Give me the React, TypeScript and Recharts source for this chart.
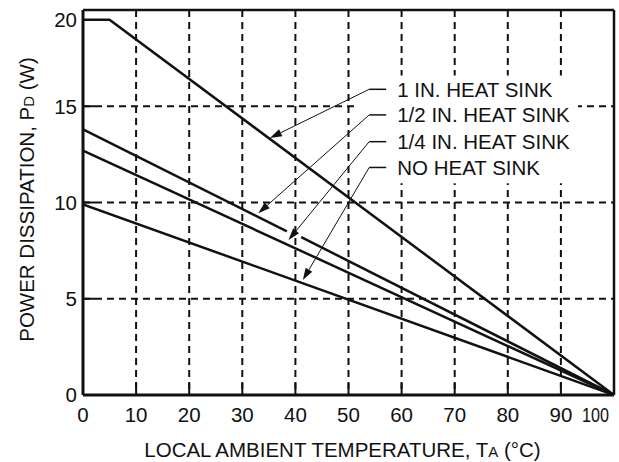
import React from "react";
import {
  LineChart,
  Line,
  XAxis,
  YAxis,
  CartesianGrid,
  ReferenceLine,
  ReferenceArea,
} from "recharts";

// Ambient temperature (°C) and power dissipation (W)
const oneInchTemp = [0, 5, 100];
const oneInchPower = [19.5, 19.5, 0];
// the 1/2 in. curve is broken where the 1/4 in. leader crosses it
const halfInchTempA = [0, 38.4];
const halfInchPowerA = [13.8, 8.5];
const halfInchTempB = [41.1, 100];
const halfInchPowerB = [8.2, 0];
const quarterInchTemp = [0, 100];
const quarterInchPower = [12.7, 0];
const noSinkTemp = [0, 100];
const noSinkPower = [9.9, 0];

const xTicks = [0, 10, 20, 30, 40, 50, 60, 70, 80, 90, 100];
const yTicks = [0, 5, 10, 15, 20];
const gridTemps = [10, 20, 30, 40, 50, 60, 70, 80, 90];
const gridPowers = [5, 10, 15];

const curveLabels = [
  "1 IN. HEAT SINK",
  "1/2 IN. HEAT SINK",
  "1/4 IN. HEAT SINK",
  "NO HEAT SINK",
];

const FONT = "'Liberation Sans', Arial, Helvetica, sans-serif";
const INK = "#111";
const FS = 20.5;

const toRows = (temps: number[], powers: number[]) =>
  temps.map((t, i) => ({ t, p: powers[i] }));

// leader lines: arrow tip on the curve, elbow next to the text
const callouts = [
  { text: curveLabels[0], tip: { x: 35.2, y: 13.35 }, elbow: { x: 53.9, y: 15.88 } },
  { text: curveLabels[1], tip: { x: 33.0, y: 9.44 }, elbow: { x: 53.9, y: 14.55 } },
  { text: curveLabels[2], tip: { x: 38.7, y: 8.05 }, elbow: { x: 53.9, y: 13.16 } },
  { text: curveLabels[3], tip: { x: 41.4, y: 5.97 }, elbow: { x: 53.9, y: 11.82 } },
];

const calloutShape = (text: string) => (p: any) => {
  const { x1, y1, x2, y2 } = p;
  const dx = x2 - x1;
  const dy = y2 - y1;
  const len = Math.hypot(dx, dy) || 1;
  const ux = dx / len;
  const uy = dy / len;
  const head = 12;
  const half = 3.8;
  const bx = x1 + ux * head;
  const by = y1 + uy * head;
  const pts = `${x1},${y1} ${bx - uy * half},${by + ux * half} ${bx + uy * half},${by - ux * half}`;
  return (
    <g>
      <line x1={bx} y1={by} x2={x2} y2={y2} stroke={INK} strokeWidth={1} />
      <polygon points={pts} fill={INK} />
      <line x1={x2} y1={y2} x2={x2 + 17} y2={y2} stroke={INK} strokeWidth={1.5} />
      <text x={x2 + 28} y={y2} dy="0.36em" fontSize={FS} fontFamily={FONT} fill={INK}>
        {text}
      </text>
    </g>
  );
};

const XTick = ({ x, y, payload }: any) => {
  const last = payload.value === xTicks[xTicks.length - 1];
  return (
    <text
      x={last ? x + 2 : x}
      y={y}
      dy="0.72em"
      textAnchor={last ? "end" : "middle"}
      fontSize={FS}
      fontFamily={FONT}
      fill={INK}
      {...(last ? { textLength: 27, lengthAdjust: "spacingAndGlyphs" } : {})}
    >
      {payload.value}
    </text>
  );
};

const YTick = ({ x, y, payload }: any) => {
  // top label sits beside the 20 W plateau, just under the frame
  const top = payload.value === yTicks[yTicks.length - 1];
  return (
    <text
      x={x}
      y={top ? y + 10 : y}
      dy="0.36em"
      textAnchor="end"
      fontSize={FS}
      fontFamily={FONT}
      fill={INK}
    >
      {payload.value}
    </text>
  );
};

const XTitle = ({ viewBox }: any) => {
  const { x, y, width } = viewBox;
  return (
    <text x={x + width / 2 - 6} y={y + 62} textAnchor="middle" fontSize={FS} fontFamily={FONT} fill={INK}>
      LOCAL AMBIENT TEMPERATURE, T<tspan fontSize={15}>A</tspan> (°C)
    </text>
  );
};

const YTitle = ({ viewBox }: any) => {
  const { y, height } = viewBox;
  const cx = 27;
  const cy = y + height / 2 - 3;
  return (
    <text
      x={cx}
      y={cy}
      transform={`rotate(-90 ${cx} ${cy})`}
      dy="0.36em"
      textAnchor="middle"
      fontSize={FS}
      fontFamily={FONT}
      fill={INK}
    >
      POWER DISSIPATION, P<tspan fontSize={15}>D</tspan> (W)
    </text>
  );
};

const App: React.FC = () => {
  const lineProps = {
    type: "linear" as const,
    dataKey: "p",
    stroke: INK,
    strokeWidth: 2.5,
    dot: false,
    activeDot: false,
    isAnimationActive: false,
  };

  return (
    <div style={{ position: "absolute", left: 0, top: 0, background: "#fff" }}>
      <LineChart width={619} height={462} margin={{ top: 10, right: 5, bottom: 0, left: 0 }}>
        <CartesianGrid
          stroke={INK}
          strokeWidth={2}
          strokeDasharray="7 5"
          horizontalValues={gridPowers}
          verticalValues={gridTemps}
        />
        {/* blank panel behind the curve labels */}
        <ReferenceArea x1={51.2} x2={93.2} y1={11.0} y2={16.6} fill="#fff" fillOpacity={1} stroke="none" />
        <XAxis
          type="number"
          dataKey="t"
          domain={[0, 100]}
          ticks={xTicks}
          height={67}
          allowDataOverflow
          axisLine={{ stroke: INK, strokeWidth: 3 }}
          tickLine={{ stroke: INK, strokeWidth: 2 }}
          tickSize={-12}
          tickMargin={24}
          tick={<XTick />}
          label={<XTitle />}
        />
        <YAxis
          type="number"
          dataKey="p"
          domain={[0, 20]}
          ticks={yTicks}
          width={83}
          allowDataOverflow
          axisLine={{ stroke: INK, strokeWidth: 3 }}
          tickLine={{ stroke: INK, strokeWidth: 2 }}
          tickSize={-12}
          tickMargin={18}
          tick={<YTick />}
          label={<YTitle />}
        />
        <ReferenceLine y={20} stroke={INK} strokeWidth={2.5} />
        <ReferenceLine x={100} stroke={INK} strokeWidth={2.5} />

        <Line {...lineProps} data={toRows(oneInchTemp, oneInchPower)} />
        <Line {...lineProps} data={toRows(halfInchTempA, halfInchPowerA)} />
        <Line {...lineProps} data={toRows(halfInchTempB, halfInchPowerB)} />
        <Line {...lineProps} data={toRows(quarterInchTemp, quarterInchPower)} />
        <Line {...lineProps} data={toRows(noSinkTemp, noSinkPower)} />

        {callouts.map((c) => (
          <ReferenceLine
            key={c.text}
            segment={[c.tip, c.elbow]}
            shape={calloutShape(c.text)}
          />
        ))}
      </LineChart>
    </div>
  );
};

export default App;
